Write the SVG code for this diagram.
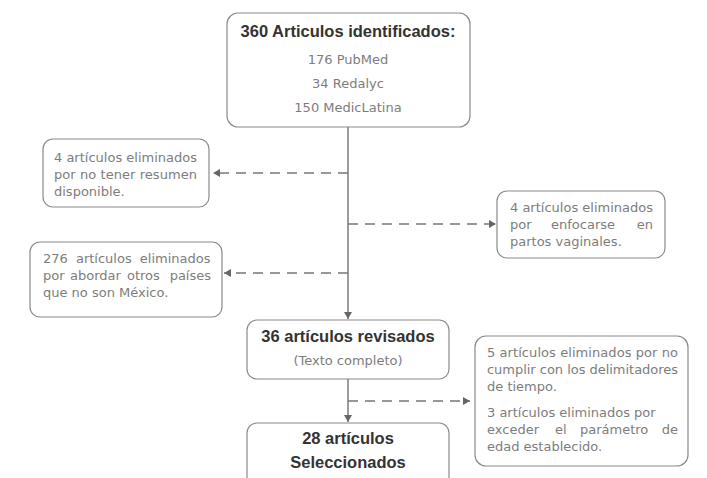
<svg xmlns="http://www.w3.org/2000/svg" width="707" height="478" viewBox="0 0 707 478">
<style>
.box{fill:#fff;stroke:#8a8a8a;stroke-width:1.2}
.t{font-family:"DejaVu Sans",Verdana,sans-serif;fill:#7d7d7d;font-size:13px}
.b{font-family:"Liberation Sans",Arial,sans-serif;fill:#333;font-size:16.5px;font-weight:bold}
.ln{stroke:#666;stroke-width:1.3;fill:none}
.dl{stroke:#777;stroke-width:1.3;fill:none;stroke-dasharray:10 7}
</style>
<defs>
<marker id="ah" markerWidth="8" markerHeight="8" refX="7" refY="4" orient="auto" markerUnits="userSpaceOnUse">
<path d="M0,0 L7,4 L0,8 Z" fill="#666"/>
</marker>
</defs>
<g id="connectors">
<line class="ln" x1="348" y1="127" x2="348" y2="319" marker-end="url(#ah)"/>
<line class="ln" x1="348" y1="379" x2="348" y2="422" marker-end="url(#ah)"/>
<line class="dl" x1="348" y1="173" x2="213" y2="173" marker-end="url(#ah)"/>
<line class="dl" x1="348" y1="224" x2="496" y2="224" marker-end="url(#ah)"/>
<line class="dl" x1="348" y1="273" x2="224" y2="273" marker-end="url(#ah)"/>
<line class="dl" x1="348" y1="401" x2="470" y2="401" marker-end="url(#ah)"/>
</g>
<g id="n1">
<rect class="box" x="227" y="13" width="243" height="114" rx="11"/>
<text class="b" x="348" y="37" text-anchor="middle">360 Articulos identificados:</text>
<text class="t" x="348" y="64" text-anchor="middle">176 PubMed</text>
<text class="t" x="348" y="88" text-anchor="middle">34 Redalyc</text>
<text class="t" x="348" y="112" text-anchor="middle">150 MedicLatina</text>
</g>
<g id="e1">
<rect class="box" x="43" y="139" width="166" height="68" rx="10"/>
<text class="t" x="54" y="162" textLength="143" lengthAdjust="spacing">4 artículos eliminados</text>
<text class="t" x="54" y="179" textLength="143" lengthAdjust="spacing">por no tener resumen</text>
<text class="t" x="54" y="196">disponible.</text>
</g>
<g id="e2">
<rect class="box" x="497" y="191" width="168" height="67" rx="10"/>
<text class="t" x="510" y="212" textLength="143" lengthAdjust="spacing">4 artículos eliminados</text>
<text class="t" y="229"><tspan x="510">por</tspan><tspan x="583" text-anchor="middle">enfocarse</tspan><tspan x="653" text-anchor="end">en</tspan></text>
<text class="t" x="510" y="246">partos vaginales.</text>
</g>
<g id="e3">
<rect class="box" x="30" y="242" width="192" height="75" rx="10"/>
<text class="t" x="43" y="263" word-spacing="4">276 artículos eliminados</text>
<text class="t" y="280"><tspan x="43">por</tspan><tspan x="70">abordar</tspan><tspan x="127">otros</tspan><tspan x="211" text-anchor="end">países</tspan></text>
<text class="t" x="43" y="297">que no son México.</text>
</g>
<g id="n2">
<rect class="box" x="247" y="320" width="202" height="59" rx="10"/>
<text class="b" x="348" y="342" text-anchor="middle">36 artículos revisados</text>
<text class="t" x="348" y="365" text-anchor="middle" font-size="12">(Texto completo)</text>
</g>
<g id="e4">
<rect class="box" x="475" y="336" width="213" height="130" rx="11"/>
<text class="t" x="487" y="357" textLength="191" lengthAdjust="spacing">5 artículos eliminados por no</text>
<text class="t" x="487" y="374" textLength="191" lengthAdjust="spacing">cumplir con los delimitadores</text>
<text class="t" x="487" y="391">de tiempo.</text>
<text class="t" x="487" y="417">3 artículos eliminados por</text>
<text class="t" y="434"><tspan x="487">exceder</tspan><tspan x="555">el</tspan><tspan x="580">parámetro</tspan><tspan x="678" text-anchor="end">de</tspan></text>
<text class="t" x="487" y="451">edad establecido.</text>
</g>
<g id="n3">
<rect class="box" x="247" y="423" width="202" height="70" rx="10"/>
<text class="b" x="348" y="444" text-anchor="middle">28 artículos</text>
<text class="b" x="348" y="468" text-anchor="middle">Seleccionados</text>
</g>
</svg>
